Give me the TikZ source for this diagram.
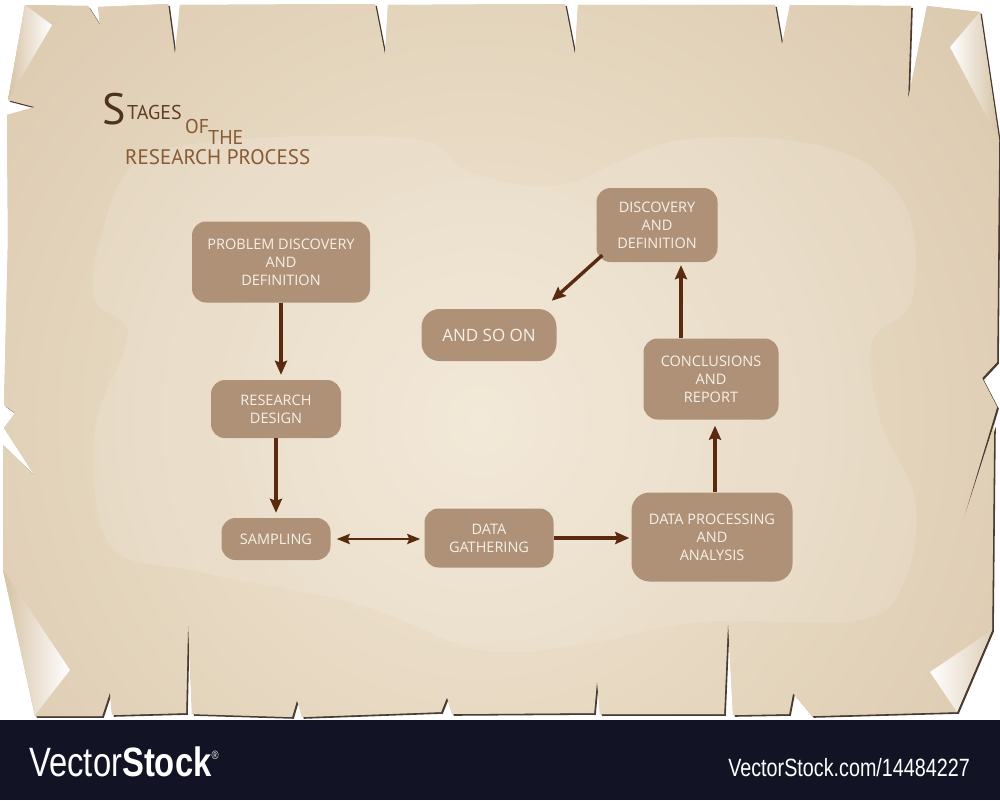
\documentclass[tikz,border=0pt]{standalone}
\usepackage{fontspec}
\setmainfont{Open Sans}
\newfontfamily\titlefont{PT Sans}
\newfontfamily\wmfont{Liberation Sans}
\usetikzlibrary{arrows.meta}
\definecolor{paper}{HTML}{D6C2A5}
\definecolor{paperlight}{HTML}{F1E6D3}
\definecolor{shadowc}{HTML}{4A3C33}
\definecolor{boxc}{HTML}{AF9177}
\definecolor{boxtext}{HTML}{F6F0E7}
\definecolor{arrowc}{HTML}{5A2A10}
\definecolor{titledark}{HTML}{4E3220}
\definecolor{titlemid}{HTML}{603E24}
\definecolor{titlelight}{HTML}{8A5A34}
\definecolor{barc}{HTML}{121324}
\def\paperpts{(25,5) -- (88,6) -- (100,25) -- (98,7) -- (168,4) -- (175,55) -- (180,5) -- (375,4) -- (385,55) -- (388,5) -- (565,4) -- (575,55) -- (578,5) -- (775,5) -- (782,45) -- (790,5) -- (911,6) -- (908,100) -- (927,6) -- (980,12) -- (999,140) -- (997,362) -- (982,378) -- (997,407) -- (958,537) -- (994,425) -- (992,630) -- (957,712) -- (812,716) -- (793,693) -- (789,714) -- (733,715) -- (728,620) -- (724,714) -- (600,714) -- (597,680) -- (594,713) -- (452,714) -- (447,697) -- (441,712) -- (302,717) -- (297,700) -- (292,717) -- (192,714) -- (188,620) -- (186,713) -- (112,715) -- (110,692) -- (102,716) -- (35,716) -- (3,570) -- (3,445) -- (35,476) -- (4,428) -- (15,413) -- (4,405) -- (8,240) -- (7,115) -- (35,107) -- (8,100) -- cycle}
\begin{document}
\begin{tikzpicture}[x=1pt,y=-1pt,
  box/.style={rectangle, rounded corners=14pt, fill=boxc, text=boxtext, align=center,
    font=\fontsize{14.5}{18}\selectfont, inner sep=0pt},
  arr/.style={draw=arrowc, line width=3.4pt, -{Stealth[length=14pt,width=12pt,inset=2pt]}},
  darr/.style={draw=arrowc, line width=2.8pt, {Stealth[length=13pt,width=10pt,inset=2pt]}-{Stealth[length=13pt,width=10pt,inset=2pt]}}]
\useasboundingbox (0,0) rectangle (1000,800);
\fill[white] (0,0) rectangle (1000,800);
% paper
\begin{scope}[shift={(1.8,1.8)}]
\fill[shadowc] \paperpts;
\end{scope}
\fill[paper] \paperpts;
\begin{scope}
\clip \paperpts;
\shade[inner color=paperlight, outer color=paper] (480,420) circle (820);
\fill[white, opacity=0.13] plot[smooth cycle, tension=0.6] coordinates {(100,240) (140,160) (260,138) (420,140) (470,172) (560,185) (680,140) (830,148) (905,205) (912,300) (872,342) (880,420) (915,500) (905,580) (860,620) (700,622) (580,645) (480,650) (360,605) (200,572) (110,545) (95,430) (128,335) (95,300)};
\end{scope}
% curled corners
\shade[left color=paper, right color=white] (25,5) -- (52,25) -- (8,100) -- cycle;
\shade[left color=white, right color=paper] (980,12) -- (950,47) -- (999,140) -- cycle;
\shade[left color=paper, right color=white] (3,570) -- (70,670) -- (35,715) -- cycle;
\shade[left color=white, right color=paper!80!white] (992,630) -- (930,672) -- (957,712) -- cycle;
% bottom bar
\fill[barc] (0,720) rectangle (1000,800);
\node[anchor=base west, inner sep=0pt, text=white, font=\wmfont\fontsize{41}{41}\selectfont] (wm1) at (29,776) {\scalebox{0.8}[1]{Vector\textbf{Stock}\raisebox{17pt}{\fontsize{12}{12}\selectfont\textregistered}}};
\node[anchor=base east, inner sep=0pt, text=white, font=\wmfont\fontsize{25}{25}\selectfont] (wm2) at (970,776) {\scalebox{0.79}[1]{VectorStock.com/14484227}};
% title
\node[anchor=base west, inner sep=0pt, text=titledark, font=\titlefont\fontsize{44}{44}\selectfont] (tS) at (102,124) {S};
\node[anchor=base west, inner sep=0pt, text=titlemid, font=\titlefont\fontsize{20}{20}\selectfont] (tT) at (127,119) {TAGES};
\node[anchor=base west, inner sep=0pt, text=titlelight, font=\titlefont\fontsize{20}{20}\selectfont] (tO) at (185,133) {OF};
\node[anchor=base west, inner sep=0pt, text=titlelight, font=\titlefont\fontsize{20}{20}\selectfont] (tH) at (208,144) {THE};
\node[anchor=base west, inner sep=0pt, text=titlelight, font=\titlefont\fontsize{21}{21}\selectfont] (tR) at (125,164) {RESEARCH PROCESS};
% boxes
\node[box, minimum width=178pt, minimum height=81pt] (b1) at (281,262) {PROBLEM DISCOVERY\\AND\\DEFINITION};
\node[box, minimum width=130pt, minimum height=58pt] (b2) at (276,409) {RESEARCH\\DESIGN};
\node[box, minimum width=109pt, minimum height=42pt] (b3) at (276,539) {SAMPLING};
\node[box, minimum width=129pt, minimum height=59pt] (b4) at (489,538) {DATA\\GATHERING};
\node[box, minimum width=161pt, minimum height=89pt, rounded corners=18pt] (b5) at (712,537) {DATA PROCESSING\\AND\\ANALYSIS};
\node[box, minimum width=135pt, minimum height=81pt] (b6) at (711,379) {CONCLUSIONS\\AND\\REPORT};
\node[box, minimum width=121pt, minimum height=74pt] (b7) at (657,225) {DISCOVERY\\AND\\DEFINITION};
\node[box, minimum width=135pt, minimum height=52pt, rounded corners=18pt, font=\fontsize{17}{20}\selectfont] (b8) at (489,335) {AND SO ON};
% connectors
\draw[arr, shorten >=5pt] (b1.south) -- (b1.south |- b2.north);
\draw[arr, shorten >=5pt] (b2.south) -- (b2.south |- b3.north);
\draw[darr, shorten <=6pt, shorten >=4pt] (b3.east) -- (b3.east -| b4.west);
\draw[arr, shorten >=2pt] (b4.east) -- (b4.east -| b5.west);
\draw[arr, shorten >=6pt] ([xshift=3pt]b5.north) -- ([xshift=3pt]b5.north |- b6.south);
\draw[arr, shorten >=3pt] ([xshift=-30pt]b6.north) -- ([xshift=-30pt]b6.north |- b7.south);
\draw[arr] ([shift={(6,-7)}]b7.south west) -- ([shift={(-5,-8)}]b8.north east);
\end{tikzpicture}
\end{document}
